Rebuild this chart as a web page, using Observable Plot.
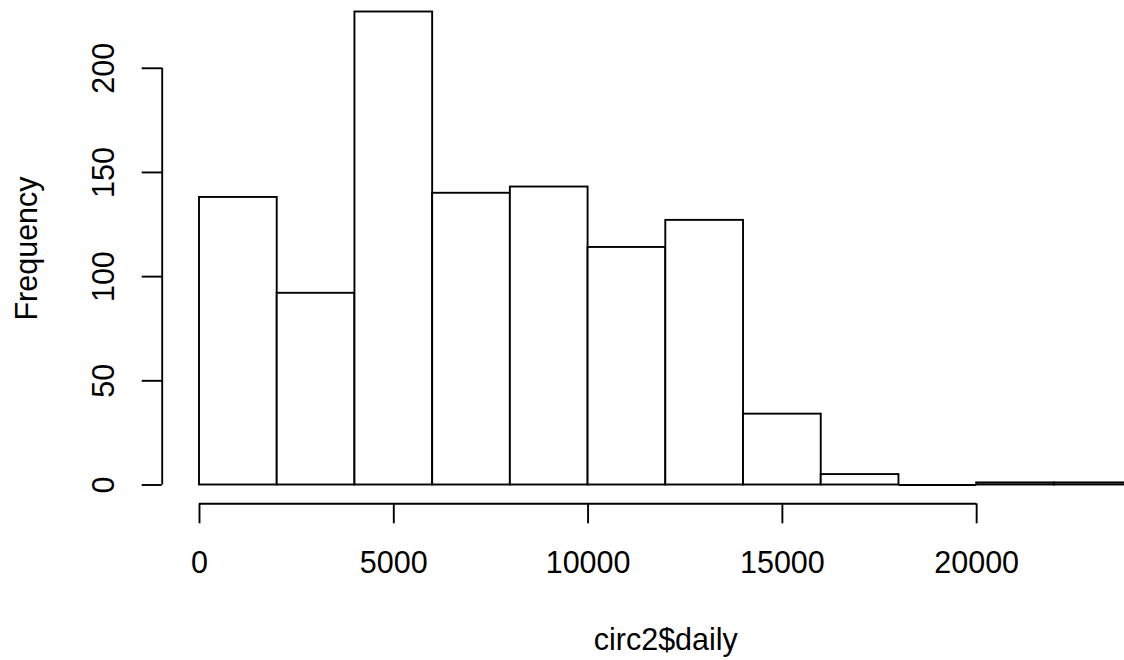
<!DOCTYPE html>
<html>
<head>
<meta charset="utf-8">
<script src="https://cdn.jsdelivr.net/npm/d3@7"></script>
<script src="https://cdn.jsdelivr.net/npm/@observablehq/plot@0.6"></script>
<style>
  html, body { margin: 0; padding: 0; background: #fff; overflow: hidden; }
  #chart { width: 1124px; height: 660px; overflow: hidden; }
</style>
</head>
<body>
<div id="chart"></div>
<script>
const breaks = [0, 2000, 4000, 6000, 8000, 10000, 12000, 14000, 16000, 18000, 20000, 22000, 24000];
const counts = [138, 92, 227, 140, 143, 114, 127, 34, 5, 0, 1, 1];
const xTicks = [0, 5000, 10000, 15000, 20000];
const yTicks = [0, 50, 100, 150, 200];
const xLabel = "circ2$daily";
const yLabel = "Frequency";

const bins = counts.map((c, i) => ({x1: breaks[i], x2: breaks[i + 1], count: c}));
const xMid = (breaks[0] + breaks[breaks.length - 1]) / 2;

const LW = 1.9;
const plot = Plot.plot({
  width: 1124,
  height: 660,
  marginLeft: 199,
  marginRight: 0,
  marginTop: 11.5,
  marginBottom: 175.5,
  style: {fontFamily: "'Liberation Sans', Arial, Helvetica, sans-serif", fontSize: "30.5px", background: "#fff", color: "#000"},
  x: {domain: [breaks[0], breaks[breaks.length - 1]], range: [199, 1131.6]},
  y: {domain: [0, d3.max(counts)], range: [484.5, 11.5]},
  marks: [
    Plot.rect(bins, {x1: "x1", x2: "x2", y1: 0, y2: "count", fill: "white", stroke: "black", strokeWidth: LW}),
    Plot.ruleY(bins.filter(d => d.count === 0), {x1: "x1", x2: "x2", y: 0, stroke: "black", strokeWidth: LW}),
    // x axis
    Plot.ruleY([0], {x1: xTicks[0], x2: xTicks[xTicks.length - 1], dy: 18.8, stroke: "black", strokeWidth: LW}),
    Plot.axisX({ticks: xTicks, tickSize: 20, dy: 18.8, tickPadding: 28, strokeWidth: LW, tickFormat: d => String(d), fill: "black", label: null}),
    // y axis
    Plot.ruleX([0], {y1: yTicks[0], y2: yTicks[yTicks.length - 1], dx: -37.3, stroke: "black", strokeWidth: LW}),
    Plot.axisY({ticks: yTicks, tickSize: 20, dx: -37.3, tickPadding: 49.4, tickRotate: -90, textAnchor: "middle", lineAnchor: "top", strokeWidth: LW, tickFormat: d => String(d), fill: "black", label: null}),
    // titles
    Plot.text([xLabel], {x: xMid, frameAnchor: "bottom", dy: 143, lineAnchor: "top", textAnchor: "middle", text: d => d, fill: "black"}),
    Plot.text([yLabel], {frameAnchor: "left", dx: 15 - 199, rotate: -90, lineAnchor: "top", textAnchor: "middle", text: d => d, fill: "black"})
  ]
});
document.getElementById("chart").appendChild(plot);
</script>
</body>
</html>
